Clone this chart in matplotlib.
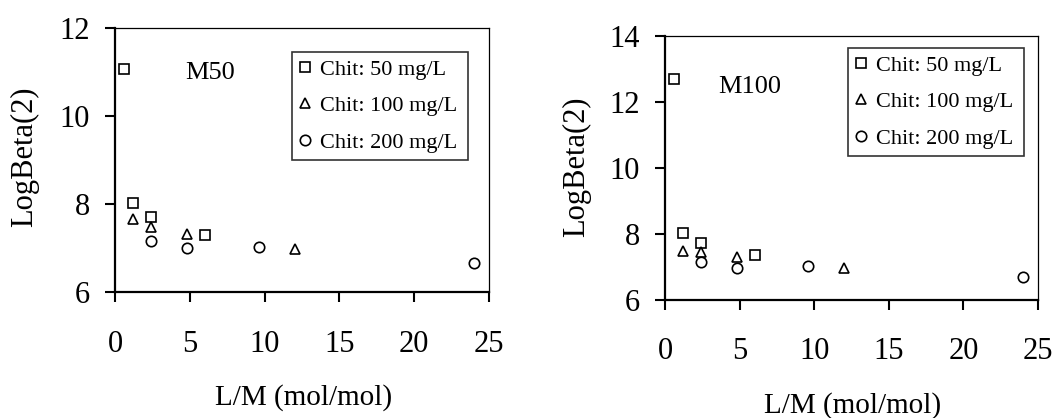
import matplotlib.pyplot as plt
import numpy as np

plt.rcParams['font.family'] = ['Liberation Serif', 'DejaVu Serif']

# M50 panel
m50_sq_x = [0.6, 1.2, 2.4, 6.0]
m50_sq_y = [11.07, 8.03, 7.71, 7.29]
m50_tri_x = [1.2, 2.4, 4.8, 12.0]
m50_tri_y = [7.66, 7.47, 7.31, 6.97]
m50_cir_x = [2.4, 4.8, 9.6, 24.0]
m50_cir_y = [7.16, 7.01, 7.02, 6.65]

# M100 panel
m100_sq_x = [0.6, 1.2, 2.4, 6.0]
m100_sq_y = [12.69, 8.02, 7.72, 7.35]
m100_tri_x = [1.2, 2.4, 4.8, 12.0]
m100_tri_y = [7.49, 7.44, 7.29, 6.98]
m100_cir_x = [2.4, 4.8, 9.6, 24.0]
m100_cir_y = [7.16, 6.98, 7.04, 6.69]

labels = ['Chit: 50 mg/L', 'Chit: 100 mg/L', 'Chit: 200 mg/L']
x_ticks = [0, 5, 10, 15, 20, 25]

fig = plt.figure(figsize=(10.59, 4.18), dpi=100)
ax1 = fig.add_axes([0.1086, 0.3014, 0.3532, 0.6316])
ax2 = fig.add_axes([0.628, 0.2823, 0.3522, 0.6316])


def style_panel(ax, ylim, yticks, tag, tag_xy, leg_box, ylab_xy, xlab_xy):
    ax.set_xlim(0, 25)
    ax.set_ylim(*ylim)
    ax.set_xticks(x_ticks)
    ax.set_yticks(yticks)
    for side in ['left', 'bottom']:
        ax.spines[side].set_linewidth(1.6)
    for side in ['top', 'right']:
        ax.spines[side].set_linewidth(0.9)
    ax.tick_params(axis='both', direction='out', length=7, width=1.5, labelsize=22)
    ax.tick_params(axis='x', pad=20)
    ax.tick_params(axis='y', pad=11)
    ax.set_ylabel('LogBeta(2)', fontsize=22, va='center', ha='center')
    ax.set_xlabel('L/M (mol/mol)', fontsize=21, va='center', ha='center')
    ax.yaxis.set_label_coords(*ylab_xy)
    ax.xaxis.set_label_coords(*xlab_xy)
    ax.text(tag_xy[0], tag_xy[1], tag, fontsize=19, ha='center', va='center')
    leg = ax.legend(loc='upper left', bbox_to_anchor=leg_box, mode='expand',
                    borderaxespad=0, fontsize=16, frameon=True, fancybox=False,
                    handlelength=0.5, handletextpad=0.45, labelspacing=0.72,
                    borderpad=0.32, markerscale=1.0)
    leg.get_frame().set_edgecolor('black')
    leg.get_frame().set_linewidth(1.2)


mk = dict(linestyle='none', mfc='white', mec='black', ms=7.5, mew=1.2)

ax1.plot(m50_sq_x, m50_sq_y, marker='s', label=labels[0], **mk)
ax1.plot(m50_tri_x, m50_tri_y, marker='^', label=labels[1], **mk)
ax1.plot(m50_cir_x, m50_cir_y, marker='o', label=labels[2], **mk)
style_panel(ax1, (6, 12), [6, 8, 10, 12], 'M50', (6.35, 10.98),
            (0.473, 0.477, 0.471, 0.432), (-0.241, 0.511), (0.503, -0.40))

ax2.plot(m100_sq_x, m100_sq_y, marker='s', label=labels[0], **mk)
ax2.plot(m100_tri_x, m100_tri_y, marker='^', label=labels[1], **mk)
ax2.plot(m100_cir_x, m100_cir_y, marker='o', label=labels[2], **mk)
style_panel(ax2, (6, 14), [6, 8, 10, 12, 14], 'M100', (5.7, 12.46),
            (0.491, 0.519, 0.471, 0.436), (-0.236, 0.504), (0.504, -0.398))

plt.savefig('out.png', dpi=100)
plt.close(fig)
